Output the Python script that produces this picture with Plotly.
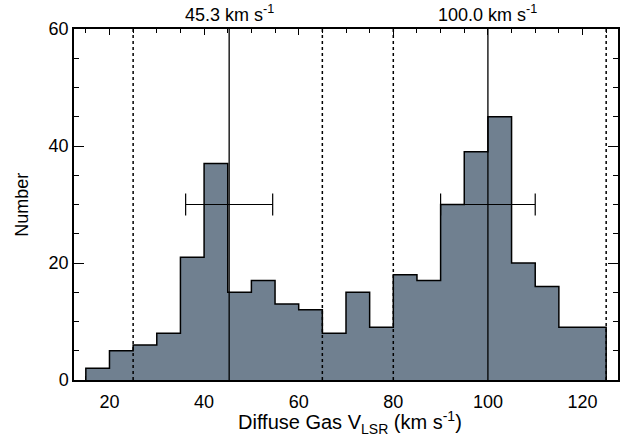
import plotly.graph_objects as go

# Histogram data
bin_edges = [15, 20, 25, 30, 35, 40, 45, 50, 55, 60, 65, 70, 75, 80, 85, 90,
             95, 100, 105, 110, 115, 120, 125]
counts = [2, 5, 6, 8, 21, 37, 15, 17, 13, 12, 8, 15, 9, 18, 17, 30,
          39, 45, 20, 16, 9, 9]

# Peak markers
peak_centers = [45.3, 100.0]
peak_labels = ["45.3 km s<sup>-1</sup>", "100.0 km s<sup>-1</sup>"]
peak_widths = [9.2, 10.0]
peak_level = [30, 30]

# Dotted division lines
divisions = [25, 65, 80, 125]

x_ticks = [20, 40, 60, 80, 100, 120]
y_ticks = [0, 20, 40, 60]

FONT = "Liberation Sans, Arial, Helvetica, sans-serif"

# step outline built from the histogram arrays
sx = [bin_edges[0]] + bin_edges[:-1] + [bin_edges[-1], bin_edges[-1]]
sy = [0] + counts + [counts[-1], 0]

fig = go.Figure()
fig.add_trace(go.Scatter(
    x=sx, y=sy, mode="lines", line=dict(shape="hv", color="black", width=1.5),
    fill="tozeroy", fillcolor="#708090", showlegend=False, hoverinfo="skip"))

fig.add_trace(go.Scatter(
    x=peak_centers, y=peak_level, mode="markers",
    marker=dict(size=0.1, color="black", opacity=0),
    error_x=dict(type="data", array=peak_widths, color="black", thickness=1.2, width=11),
    showlegend=False, hoverinfo="skip"))

shapes = []
for d in divisions:
    shapes.append(dict(type="line", xref="x", yref="y", x0=d, x1=d, y0=0, y1=60,
                       line=dict(color="black", width=1.5, dash="dot"), layer="above"))
for c in peak_centers:
    shapes.append(dict(type="line", xref="x", yref="y", x0=c, x1=c, y0=0, y1=60,
                       line=dict(color="black", width=1.3), layer="above"))

annotations = []
for c, lab in zip(peak_centers, peak_labels):
    annotations.append(dict(x=c, y=1.0, xref="x", yref="paper", text=lab,
                            showarrow=False, yanchor="bottom", yshift=2,
                            font=dict(family=FONT, size=18, color="black")))
# axis titles
annotations.append(dict(x=0.507, y=-0.122, xref="paper", yref="paper",
                        text="Diffuse Gas V<sub>LSR</sub> (km s<sup>-1</sup>)",
                        showarrow=False, xanchor="center", yanchor="middle",
                        font=dict(family=FONT, size=20, color="black")))
annotations.append(dict(x=-0.097, y=0.5, xref="paper", yref="paper",
                        text="Number", textangle=-90,
                        showarrow=False, xanchor="center", yanchor="middle",
                        font=dict(family=FONT, size=18, color="black")))

fig.update_layout(
    width=639, height=436,
    margin=dict(l=74, r=21, t=29, b=56),
    plot_bgcolor="white", paper_bgcolor="white",
    shapes=shapes, annotations=annotations,
    font=dict(family=FONT, color="black"),
    xaxis=dict(range=[12.5, 127.5], tickvals=x_ticks, ticks="inside", ticklen=6,
               tickwidth=1, tickcolor="black", mirror="ticks", showline=True,
               linecolor="black", linewidth=1.5, showgrid=False, zeroline=False,
               layer="below traces", automargin=False, ticklabelstandoff=5,
               minor=dict(dtick=5, tick0=0, ticks="inside", ticklen=4, tickcolor="black", showgrid=False),
               tickfont=dict(family=FONT, size=18)),
    yaxis=dict(range=[0, 60], tickvals=y_ticks, ticks="inside", ticklen=10,
               tickwidth=1.2, tickcolor="black", mirror="ticks", showline=True,
               linecolor="black", linewidth=1.5, showgrid=False, zeroline=False,
               automargin=False,
               minor=dict(dtick=5, tick0=0, ticks="inside", ticklen=5, tickcolor="black", showgrid=False),
               tickfont=dict(family=FONT, size=18)),
)

fig.write_html("out.html", config={"displayModeBar": False},
               post_script="document.body.style.margin='0px';")
